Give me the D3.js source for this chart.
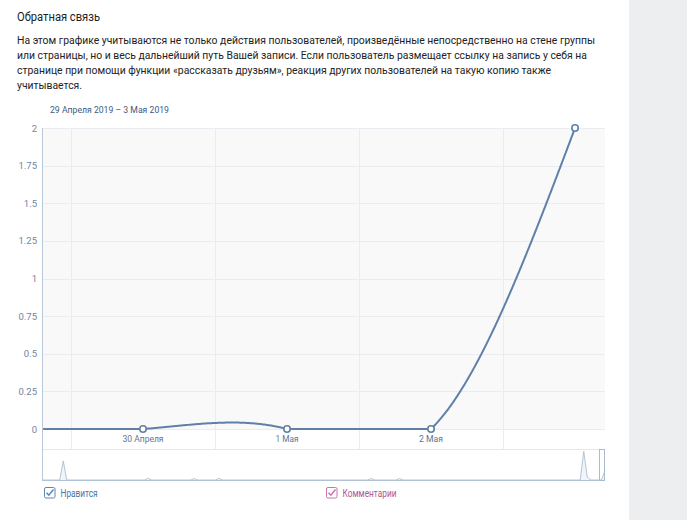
<!DOCTYPE html>
<html><head><meta charset="utf-8">
<script src="https://cdn.jsdelivr.net/npm/d3@7"></script>
<style>
body{margin:0;background:#fff;}
svg{display:block;font-family:Roboto,"Open Sans",sans-serif;}
</style></head>
<body>
<svg id="c" width="687" height="520"></svg>
<script>
const title = "Обратная связь";
const paragraph = [
  "На этом графике учитываются не только действия пользователей, произведённые непосредственно на стене группы",
  "или страницы, но и весь дальнейший путь Вашей записи. Если пользователь размещает ссылку на запись у себя на",
  "странице при помощи функции «рассказать друзьям», реакция других пользователей на такую копию также",
  "учитывается."
];
const paragraphWidths = [578, 570, 534, 65];
const dateRange = "29 Апреля 2019 – 3 Мая 2019";
const days = ["29 Апреля", "30 Апреля", "1 Мая", "2 Мая", "3 Мая"];
const likes = [0, 0, 0, 0, 2];
const xTickLabels = ["30 Апреля", "1 Мая", "2 Мая"];
const xTickWidths = [41, 23, 24];
const xTickIndex = [1, 2, 3];
const yTicks = [0, 0.25, 0.5, 0.75, 1, 1.25, 1.5, 1.75, 2];
const navValues = (() => {
  const a = new Array(160).fill(0);
  a[6] = 4; a[30] = 0.35; a[43] = 0.3; a[50] = 0.35; a[93] = 0.3; a[101] = 0.3;
  a[153] = 6; a[154] = 0.6; a[159] = 2;
  return a;
})();
const legendItems = ["Нравится", "Комментарии"];
const legendWidths = [37, 54];

const svg = d3.select("#c");
svg.append("rect").attr("x", 629).attr("y", 0).attr("width", 58).attr("height", 520).attr("fill", "#edeef0");

function fitText(sel, w) {
  return sel.attr("textLength", w).attr("lengthAdjust", "spacingAndGlyphs");
}

fitText(svg.append("text").attr("x", 17).attr("y", 21).attr("font-size", 12).attr("fill", "#222").text(title), 83);
paragraph.forEach((t, i) => {
  fitText(svg.append("text").attr("x", 17).attr("y", 44 + i * 15).attr("font-size", 11).attr("fill", "#222").text(t), paragraphWidths[i]);
});
fitText(svg.append("text").attr("x", 50).attr("y", 113).attr("font-size", 9.5).attr("fill", "#3d5a80").text(dateRange), 119);

const L = 42, R = 605, T = 128, B0 = 429, B = 449, NB = 480;
const x = d3.scaleLinear().domain([0.2986, 4.208]).range([L, R]);
const y = d3.scaleLinear().domain([0, 2]).range([B0, T]);

svg.append("rect").attr("x", L).attr("y", T).attr("width", R - L).attr("height", B0 - T).attr("fill", "#f9f9fa");

svg.append("g").selectAll("line").data(yTicks).join("line")
  .attr("x1", L).attr("x2", R).attr("y1", d => Math.round(y(d)) + 0.5).attr("y2", d => Math.round(y(d)) + 0.5)
  .attr("stroke", "#e9edf2");
const grid = [0.5, 1.5, 2.5, 3.5];
svg.append("g").selectAll("line").data(grid).join("line")
  .attr("x1", d => Math.round(x(d)) + 0.5).attr("x2", d => Math.round(x(d)) + 0.5)
  .attr("y1", T).attr("y2", B).attr("stroke", "#e9edf2");
svg.append("line").attr("x1", L).attr("x2", R).attr("y1", B + 0.5).attr("y2", B + 0.5).attr("stroke", "#e3e8ee");

svg.append("g").selectAll("text").data(yTicks).join("text")
  .attr("x", 37).attr("y", d => y(d) + 3.5).attr("text-anchor", "end")
  .attr("font-size", 9.5).attr("fill", "#6f84a0").text(d => String(d));

svg.append("g").selectAll("text").data(xTickIndex).join("text")
  .attr("x", d => x(d)).attr("y", 442).attr("text-anchor", "middle")
  .attr("font-size", 9.5).attr("fill", "#5d7694")
  .attr("textLength", (d, i) => xTickWidths[i]).attr("lengthAdjust", "spacingAndGlyphs")
  .text((d, i) => xTickLabels[i]);

// spline (natural) clamped at the zero floor and clipped to the plot
const lineGen = d3.line().x((d, i) => x(i)).y(d => y(d)).curve(d3.curveNatural);
const tmp = svg.append("path").attr("d", lineGen(likes)).attr("fill", "none").attr("stroke", "none");
const node = tmp.node();
const len = node.getTotalLength();
const pts = [];
for (let s = 0; s <= 600; s++) {
  const p = node.getPointAtLength(len * s / 600);
  if (p.x < L || p.x > R) continue;
  pts.push([p.x, Math.min(p.y, y(0))]);
}
tmp.remove();
const color = "#5f81a8";
svg.append("path").attr("d", d3.line()(pts))
  .attr("fill", "none").attr("stroke", color).attr("stroke-width", 2).attr("stroke-linejoin", "round");
svg.append("g").selectAll("circle").data(likes.map((v, i) => ({v, i})).filter(d => x(d.i) >= L)).join("circle")
  .attr("cx", d => x(d.i)).attr("cy", d => y(d.v)).attr("r", 3.2)
  .attr("fill", "#fff").attr("stroke", color).attr("stroke-width", 1.6);

svg.append("line").attr("x1", L + 0.5).attr("x2", L + 0.5).attr("y1", T).attr("y2", NB).attr("stroke", "#b9c7d7");

// navigator
const nx = d3.scaleLinear().domain([0, navValues.length - 1]).range([L, R]);
const ny = d3.scaleLinear().domain([0, 6.5]).range([NB, B]);
svg.append("path").attr("d", d3.area().x((d, i) => nx(i)).y0(NB).y1(d => ny(d))(navValues))
  .attr("fill", "#f1f4f8");
svg.append("path").attr("d", d3.line().x((d, i) => nx(i)).y(d => ny(d))(navValues))
  .attr("fill", "none").attr("stroke", "#b6c4d5").attr("stroke-width", 1);
svg.append("line").attr("x1", L).attr("x2", R).attr("y1", NB + 0.5).attr("y2", NB + 0.5).attr("stroke", "#b3c3d6");
svg.append("rect").attr("x", 599.5).attr("y", B + 0.5).attr("width", 5).attr("height", NB - B)
  .attr("fill", "none").attr("stroke", "#a9bbd0");

// legend
const lg = [{x: 44, c: "#5b86b8", t: "#4a74a6"}, {x: 326, c: "#cc73aa", t: "#b0558f"}];
legendItems.forEach((t, i) => {
  const g = svg.append("g").attr("transform", `translate(${lg[i].x},487)`);
  g.append("rect").attr("x", 0.5).attr("y", 0.5).attr("width", 10.5).attr("height", 10.5).attr("rx", 1.5)
    .attr("fill", "#fff").attr("stroke", lg[i].c);
  g.append("path").attr("d", "M2.5 5.8 L4.8 8.2 L9.5 2.5").attr("fill", "none").attr("stroke", lg[i].c).attr("stroke-width", 1.5);
  fitText(g.append("text").attr("x", 16.5).attr("y", 10).attr("font-size", 10).attr("fill", lg[i].t).text(t), legendWidths[i]);
});
</script>
</body></html>
